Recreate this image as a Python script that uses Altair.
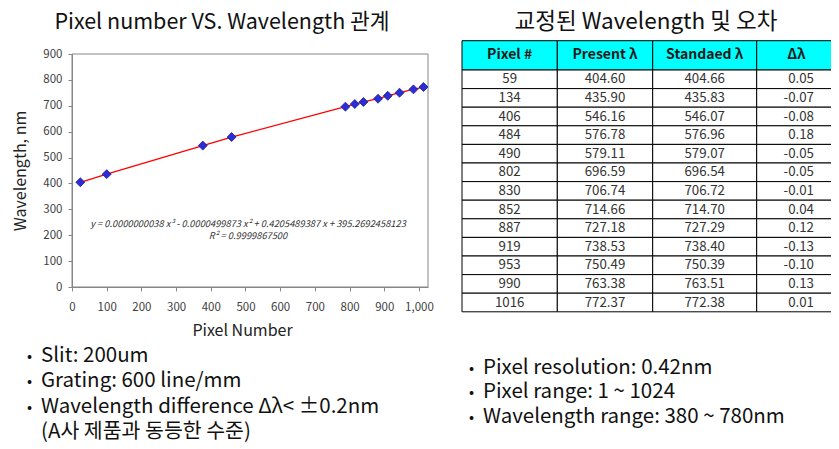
import altair as alt
import pandas as pd

# ---------------- data ----------------
# scatter points (x position as plotted, wavelength in nm)
pixel_pos = [24, 100, 377, 460, 788, 815, 840, 882, 910, 944, 984, 1013]
wavelength = [404.6, 435.9, 546.2, 579.1, 696.6, 706.7, 714.7, 727.2, 738.5, 750.5, 763.4, 772.4]

x_ticks = [0, 100, 200, 300, 400, 500, 600, 700, 800, 900, 1000]
y_ticks = [0, 100, 200, 300, 400, 500, 600, 700, 800, 900]

# calibration table
table_headers = ["Pixel #", "Present λ", "Standaed λ", "Δλ"]
table_pixel = ["59", "134", "406", "484", "490", "802", "830", "852", "887", "919", "953", "990", "1016"]
table_present = ["404.60", "435.90", "546.16", "576.78", "579.11", "696.59", "706.74", "714.66",
                 "727.18", "738.53", "750.49", "763.38", "772.37"]
table_standard = ["404.66", "435.83", "546.07", "576.96", "579.07", "696.54", "706.72", "714.70",
                  "727.29", "738.40", "750.39", "763.51", "772.38"]
table_delta = ["0.05", "-0.07", "-0.08", "0.18", "-0.05", "-0.05", "-0.01", "0.04",
               "0.12", "-0.13", "-0.10", "0.13", "0.01"]

# texts
left_title = "Pixel number VS. Wavelength 관계"
right_title = "교정된 Wavelength 및 오차"
equation = "y = 0.0000000038 x³ - 0.0000499873 x² + 0.4205489387 x + 395.2692458123"
r_squared = "R² = 0.9999867500"
left_notes = ["Slit: 200um", "Grating: 600 line/mm", "Wavelength difference Δλ< ±0.2nm",
              "(A사 제품과 동등한 수준)"]
left_has_bullet = [True, True, True, False]
right_notes = ["Pixel resolution: 0.42nm", "Pixel range: 1 ~ 1024", "Wavelength range: 380 ~ 780nm"]

# ---------------- layout constants ----------------
FONT = "Noto Sans CJK KR"
W, H = 356, 233
PAD = {"left": 64, "top": 46, "right": 823 - 64 - 356, "bottom": 441 - 46 - 233}
GREY = "#868686"

# ---------------- scatter plot ----------------
xs = alt.Scale(domain=[0, 1026], nice=False, zero=False)
ys = alt.Scale(domain=[0, 900], nice=False)

x_axis = alt.Axis(values=x_ticks, title="Pixel Number", grid=False, domainColor=GREY,
                  tickColor=GREY, tickSize=4, labelFontSize=11.5, labelColor="#404040",
                  labelFont=FONT, labelPadding=10, labelFlush=False, labelOverlap=False,
                  titleFont=FONT, titleFontSize=16, titleFontWeight="normal",
                  titleColor="#222222", titlePadding=10, titleX=170, zindex=1)
y_axis = alt.Axis(values=y_ticks, title="Wavelength, nm", grid=False, domainColor=GREY,
                  tickColor=GREY, tickSize=4, labelFontSize=11.5, labelColor="#404040",
                  labelFont=FONT, labelPadding=6, labelFlush=False, labelOverlap=False,
                  titleFont=FONT, titleFontSize=16, titleFontWeight="normal",
                  titleColor="#222222", titlePadding=14, zindex=1)

frame_df = pd.DataFrame({"x0": [0], "x1": [1026], "y0": [0], "y1": [900]})
frame = alt.Chart(frame_df).mark_rect(fill="white", stroke=GREY, strokeWidth=1).encode(
    x=alt.X("x0:Q", scale=xs, axis=x_axis), x2="x1",
    y=alt.Y("y0:Q", scale=ys, axis=y_axis), y2="y1")

pts_df = pd.DataFrame({"pixel": pixel_pos, "wl": wavelength})
trend = alt.Chart(pts_df).mark_line(color="#ff0000", strokeWidth=1.3).encode(
    x=alt.X("pixel:Q", scale=xs, axis=None), y=alt.Y("wl:Q", scale=ys, axis=None))
points = alt.Chart(pts_df).mark_point(shape="diamond", filled=True, size=80, color="#2d2dd8",
                                      stroke="#1c1c8c", strokeWidth=0.8, opacity=1).encode(
    x=alt.X("pixel:Q", scale=xs, axis=None), y=alt.Y("wl:Q", scale=ys, axis=None))

eq_df = pd.DataFrame({"t": [equation, r_squared], "i": [0, 1]})
eq_text = alt.Chart(eq_df).mark_text(font=FONT, fontSize=9.3, fontStyle="italic",
                                     color="#333333", align="center", baseline="middle").encode(
    text="t:N", x=alt.value(176),
    y=alt.Y("i:Q", scale=alt.Scale(domain=[0, 1], range=[170, 182]), axis=None))

# ---------------- table ----------------
col_edges = [0, 95.3, 190.7, 294.7, 374]
header_h, row_h = 29.3, 18.6
n_rows = len(table_pixel)
tx = alt.Scale(domain=[0, 374], range=[390, 764], nice=False, zero=False)
ty = alt.Scale(domain=[0, header_h + n_rows * row_h], range=[-13.3, 257.8], nice=False, zero=False)

columns = [table_pixel, table_present, table_standard, table_delta]
cells, texts = [], []
for r in range(n_rows + 1):
    y0 = 0 if r == 0 else header_h + (r - 1) * row_h
    y1 = header_h if r == 0 else header_h + r * row_h
    for c in range(4):
        x0, x1 = col_edges[c], col_edges[c + 1]
        cells.append({"x0": x0, "x1": x1, "y0": y0, "y1": y1,
                      "kind": "head" if r == 0 else "body"})
        if r == 0:
            txt, kind, xm = table_headers[c], "head", (x0 + x1) / 2
        elif c == 3:
            txt, kind, xm = columns[c][r - 1], "right", x1 - 22
        else:
            txt, kind, xm = columns[c][r - 1], "body", (x0 + x1) / 2
        texts.append({"t": txt, "x": xm, "y": (y0 + y1) / 2, "kind": kind})
cells_df = pd.DataFrame(cells)
texts_df = pd.DataFrame(texts)

cell_rects = alt.Chart(cells_df).mark_rect(stroke="#000000", strokeWidth=1).encode(
    x=alt.X("x0:Q", scale=tx, axis=None), x2="x1",
    y=alt.Y("y0:Q", scale=ty, axis=None), y2="y1",
    fill=alt.Fill("kind:N", scale=alt.Scale(domain=["head", "body"], range=["#00ffff", "#ffffff"]),
                  legend=None))
head_text = alt.Chart(texts_df).transform_filter(alt.datum.kind == "head").mark_text(
    font=FONT, fontSize=14, fontWeight="bold", color="#1a1a1a", align="center",
    baseline="middle").encode(
    text="t:N", x=alt.X("x:Q", scale=tx, axis=None), y=alt.Y("y:Q", scale=ty, axis=None))
body_text = alt.Chart(texts_df).transform_filter(alt.datum.kind == "body").mark_text(
    font=FONT, fontSize=13.3, color="#333333", align="center", baseline="middle").encode(
    text="t:N", x=alt.X("x:Q", scale=tx, axis=None), y=alt.Y("y:Q", scale=ty, axis=None))
right_text = alt.Chart(texts_df).transform_filter(alt.datum.kind == "right").mark_text(
    font=FONT, fontSize=13.3, color="#333333", align="right", baseline="middle").encode(
    text="t:N", x=alt.X("x:Q", scale=tx, axis=None), y=alt.Y("y:Q", scale=ty, axis=None))

# ---------------- titles & notes ----------------
lt_df = pd.DataFrame({"t": [left_title]})
left_title_mark = alt.Chart(lt_df).mark_text(font=FONT, fontSize=21.5, color="#111111",
                                             align="center", baseline="middle").encode(
    text="t:N", x=alt.value(150), y=alt.value(-31))
rt_df = pd.DataFrame({"t": [right_title]})
right_title_mark = alt.Chart(rt_df).mark_text(font=FONT, fontSize=22.5, color="#111111",
                                              align="center", baseline="middle").encode(
    text="t:N", x=alt.value(574), y=alt.value(-32))

ln_df = pd.DataFrame({"t": left_notes, "i": list(range(len(left_notes))),
                      "b": ["•" if b else "" for b in left_has_bullet]})
ln_y = alt.Scale(domain=[0, len(left_notes) - 1], range=[301.5, 378])
left_text = alt.Chart(ln_df).mark_text(font=FONT, fontSize=20.5, color="#111111", align="left",
                                       baseline="middle").encode(
    text="t:N", x=alt.value(-31), y=alt.Y("i:Q", scale=ln_y, axis=None))
left_dots = alt.Chart(ln_df).mark_text(font=FONT, fontSize=15, color="#111111", align="left",
                                       baseline="middle").encode(
    text="b:N", x=alt.value(-45), y=alt.Y("i:Q", scale=ln_y, axis=None))

rn_df = pd.DataFrame({"t": right_notes, "i": list(range(len(right_notes))),
                      "b": ["•"] * len(right_notes)})
rn_y = alt.Scale(domain=[0, len(right_notes) - 1], range=[313.5, 362.5])
right_notes_text = alt.Chart(rn_df).mark_text(font=FONT, fontSize=20.5, color="#111111",
                                              align="left", baseline="middle").encode(
    text="t:N", x=alt.value(411), y=alt.Y("i:Q", scale=rn_y, axis=None))
right_dots = alt.Chart(rn_df).mark_text(font=FONT, fontSize=15, color="#111111", align="left",
                                        baseline="middle").encode(
    text="b:N", x=alt.value(397), y=alt.Y("i:Q", scale=rn_y, axis=None))

chart = alt.layer(
    frame, trend, points, eq_text, cell_rects, head_text, body_text, right_text,
    left_title_mark, right_title_mark, left_text, left_dots, right_notes_text, right_dots
).resolve_scale(x="independent", y="independent").properties(
    width=W, height=H, padding=PAD, autosize=alt.AutoSizeParams(type="none"),
    background="white"
).configure_view(strokeWidth=0)

chart.save("out.html", embed_options={"renderer": "svg", "actions": False})
